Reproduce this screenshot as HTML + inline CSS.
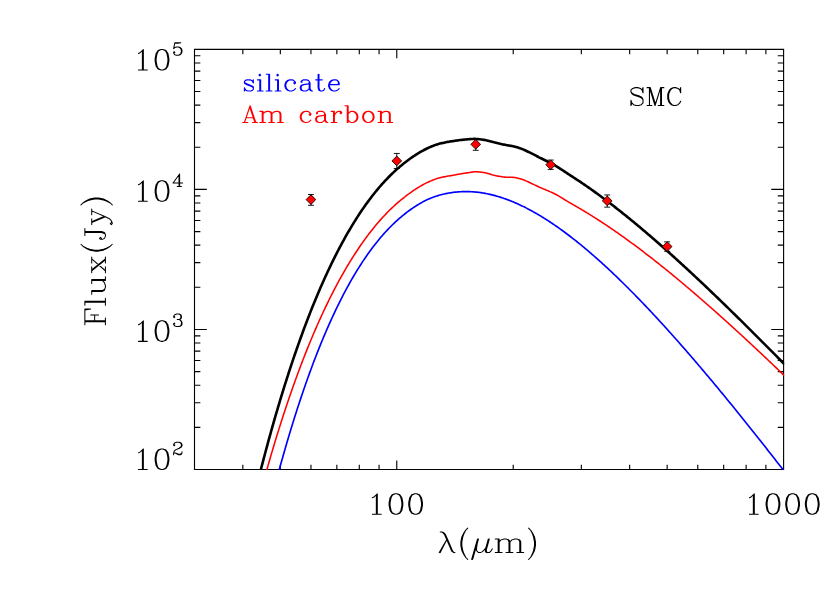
<!DOCTYPE html>
<html><head><meta charset="utf-8"><title>SMC SED</title>
<style>html,body{margin:0;padding:0;background:#fff;font-family:"Liberation Sans",sans-serif}svg{display:block}</style></head>
<body>
<svg width="830" height="593" viewBox="0 0 830 593">
<rect width="830" height="593" fill="#fff"/>
<path d="M194.5 49.4H783.6V469.5H194.5ZM242.83 469.5v-4.2M242.83 49.4v4.2M280.32 469.5v-4.2M280.32 49.4v4.2M310.95 469.5v-4.2M310.95 49.4v4.2M336.85 469.5v-4.2M336.85 49.4v4.2M359.28 469.5v-4.2M359.28 49.4v4.2M379.07 469.5v-4.2M379.07 49.4v4.2M396.77 469.5v-8.4M396.77 49.4v8.4M513.22 469.5v-4.2M513.22 49.4v4.2M581.33 469.5v-4.2M581.33 49.4v4.2M629.66 469.5v-4.2M629.66 49.4v4.2M667.15 469.5v-4.2M667.15 49.4v4.2M697.78 469.5v-4.2M697.78 49.4v4.2M723.68 469.5v-4.2M723.68 49.4v4.2M746.11 469.5v-4.2M746.11 49.4v4.2M765.9 469.5v-4.2M765.9 49.4v4.2M783.6 469.5v-8.4M783.6 49.4v8.4M194.5 469.5h11.8M783.6 469.5h-11.8M194.5 427.35h5.3M783.6 427.35h-5.3M194.5 402.69h5.3M783.6 402.69h-5.3M194.5 385.19h5.3M783.6 385.19h-5.3M194.5 371.62h5.3M783.6 371.62h-5.3M194.5 360.53h5.3M783.6 360.53h-5.3M194.5 351.16h5.3M783.6 351.16h-5.3M194.5 343.04h5.3M783.6 343.04h-5.3M194.5 335.87h5.3M783.6 335.87h-5.3M194.5 329.47h11.8M783.6 329.47h-11.8M194.5 287.31h5.3M783.6 287.31h-5.3M194.5 262.65h5.3M783.6 262.65h-5.3M194.5 245.16h5.3M783.6 245.16h-5.3M194.5 231.59h5.3M783.6 231.59h-5.3M194.5 220.5h5.3M783.6 220.5h-5.3M194.5 211.12h5.3M783.6 211.12h-5.3M194.5 203h5.3M783.6 203h-5.3M194.5 195.84h5.3M783.6 195.84h-5.3M194.5 189.43h11.8M783.6 189.43h-11.8M194.5 147.28h5.3M783.6 147.28h-5.3M194.5 122.62h5.3M783.6 122.62h-5.3M194.5 105.12h5.3M783.6 105.12h-5.3M194.5 91.55h5.3M783.6 91.55h-5.3M194.5 80.47h5.3M783.6 80.47h-5.3M194.5 71.09h5.3M783.6 71.09h-5.3M194.5 62.97h5.3M783.6 62.97h-5.3M194.5 55.81h5.3M783.6 55.81h-5.3M194.5 49.4h11.8M783.6 49.4h-11.8" fill="none" stroke="#000" stroke-width="1.12" stroke-linecap="square"/>
<defs><clipPath id="c"><rect x="193.9" y="48.8" width="590.3" height="421.3"/></clipPath></defs>
<g clip-path="url(#c)" fill="none" stroke-linejoin="round" stroke-linecap="butt">
<path d="M270 504.78 L271 500.84 L272 496.94 L273 493.06 L274 489.23 L275 485.42 L276 481.65 L277 477.91 L278 474.21 L279 470.53 L280 466.89 L281 463.29 L282 459.71 L283 456.17 L284 452.66 L285 449.18 L286 445.73 L287 442.31 L288 438.92 L289 435.57 L290 432.24 L291 428.95 L292 425.68 L293 422.45 L294 419.24 L295 416.07 L296 412.92 L297 409.81 L298 406.72 L299 403.66 L300 400.63 L301 397.63 L302 394.66 L303 391.72 L304 388.8 L305 385.91 L306 383.06 L307 380.22 L308 377.42 L309 374.64 L310 371.89 L311 369.17 L312 366.48 L313 363.81 L314 361.16 L315 358.55 L316 355.96 L317 353.39 L318 350.86 L319 348.34 L320 345.86 L321 343.4 L322 340.96 L323 338.55 L324 336.17 L325 333.81 L326 331.47 L327 329.16 L328 326.87 L329 324.61 L330 322.37 L331 320.16 L332 317.97 L333 315.8 L334 313.66 L335 311.54 L336 309.44 L337 307.37 L338 305.32 L339 303.29 L340 301.28 L341 299.3 L342 297.34 L343 295.4 L344 293.49 L345 291.6 L346 289.72 L347 287.87 L348 286.05 L349 284.24 L350 282.46 L351 280.69 L352 278.95 L353 277.23 L354 275.53 L355 273.85 L356 272.19 L357 270.55 L358 268.93 L359 267.34 L360 265.76 L361 264.2 L362 262.66 L363 261.15 L364 259.65 L365 258.17 L366 256.71 L367 255.27 L368 253.85 L369 252.45 L370 251.07 L371 249.71 L372 248.36 L373 247.04 L374 245.73 L375 244.44 L376 243.17 L377 241.92 L378 240.68 L379 239.47 L380 238.27 L381 237.09 L382 235.92 L383 234.78 L384 233.65 L385 232.54 L386 231.45 L387 230.37 L388 229.31 L389 228.27 L390 227.24 L391 226.23 L392 225.24 L393 224.26 L394 223.3 L395 222.36 L396 221.43 L397 220.52 L398 219.62 L399 218.74 L400 217.87 L401 217.02 L402 216.18 L403 215.36 L404 214.55 L405 213.76 L406 212.98 L407 212.21 L408 211.46 L409 210.72 L410 210 L411 209.29 L412 208.59 L413 207.9 L414 207.23 L415 206.58 L416 205.94 L417 205.31 L418 204.69 L419 204.09 L420 203.51 L421 202.94 L422 202.38 L423 201.84 L424 201.31 L425 200.8 L426 200.31 L427 199.83 L428 199.37 L429 198.92 L430 198.49 L431 198.08 L432 197.68 L433 197.29 L434 196.93 L435 196.57 L436 196.24 L437 195.91 L438 195.6 L439 195.31 L440 195.02 L441 194.76 L442 194.5 L443 194.26 L444 194.02 L445 193.8 L446 193.59 L447 193.4 L448 193.21 L449 193.03 L450 192.87 L451 192.71 L452 192.56 L453 192.43 L454 192.3 L455 192.19 L456 192.08 L457 191.99 L458 191.9 L459 191.83 L460 191.76 L461 191.71 L462 191.66 L463 191.63 L464 191.6 L465 191.59 L466 191.58 L467 191.59 L468 191.6 L469 191.63 L470 191.66 L471 191.71 L472 191.76 L473 191.83 L474 191.9 L475 191.98 L476 192.08 L477 192.18 L478 192.29 L479 192.42 L480 192.55 L481 192.69 L482 192.84 L483 193 L484 193.17 L485 193.35 L486 193.54 L487 193.74 L488 193.94 L489 194.16 L490 194.38 L491 194.61 L492 194.85 L493 195.1 L494 195.36 L495 195.63 L496 195.91 L497 196.19 L498 196.48 L499 196.78 L500 197.09 L501 197.41 L502 197.74 L503 198.07 L504 198.41 L505 198.76 L506 199.12 L507 199.49 L508 199.86 L509 200.24 L510 200.63 L511 201.03 L512 201.43 L513 201.84 L514 202.26 L515 202.69 L516 203.13 L517 203.57 L518 204.02 L519 204.47 L520 204.94 L521 205.41 L522 205.89 L523 206.37 L524 206.86 L525 207.36 L526 207.87 L527 208.38 L528 208.9 L529 209.43 L530 209.96 L531 210.5 L532 211.04 L533 211.6 L534 212.16 L535 212.72 L536 213.29 L537 213.87 L538 214.46 L539 215.05 L540 215.65 L541 216.25 L542 216.86 L543 217.48 L544 218.1 L545 218.72 L546 219.36 L547 220 L548 220.64 L549 221.3 L550 221.95 L551 222.62 L552 223.28 L553 223.96 L554 224.64 L555 225.32 L556 226.02 L557 226.71 L558 227.41 L559 228.12 L560 228.83 L561 229.55 L562 230.28 L563 231.01 L564 231.74 L565 232.48 L566 233.22 L567 233.97 L568 234.73 L569 235.49 L570 236.25 L571 237.02 L572 237.79 L573 238.57 L574 239.36 L575 240.15 L576 240.94 L577 241.74 L578 242.54 L579 243.35 L580 244.16 L581 244.98 L582 245.8 L583 246.63 L584 247.46 L585 248.29 L586 249.13 L587 249.97 L588 250.82 L589 251.67 L590 252.53 L591 253.39 L592 254.26 L593 255.13 L594 256 L595 256.88 L596 257.76 L597 258.65 L598 259.54 L599 260.43 L600 261.33 L601 262.23 L602 263.13 L603 264.04 L604 264.96 L605 265.87 L606 266.8 L607 267.72 L608 268.65 L609 269.58 L610 270.52 L611 271.46 L612 272.4 L613 273.35 L614 274.3 L615 275.25 L616 276.21 L617 277.17 L618 278.13 L619 279.1 L620 280.07 L621 281.05 L622 282.03 L623 283.01 L624 283.99 L625 284.98 L626 285.97 L627 286.97 L628 287.96 L629 288.96 L630 289.97 L631 290.97 L632 291.99 L633 293 L634 294.01 L635 295.03 L636 296.06 L637 297.08 L638 298.11 L639 299.14 L640 300.18 L641 301.21 L642 302.25 L643 303.3 L644 304.34 L645 305.39 L646 306.44 L647 307.5 L648 308.55 L649 309.61 L650 310.67 L651 311.74 L652 312.81 L653 313.88 L654 314.95 L655 316.03 L656 317.1 L657 318.18 L658 319.27 L659 320.35 L660 321.44 L661 322.53 L662 323.63 L663 324.72 L664 325.82 L665 326.92 L666 328.02 L667 329.13 L668 330.24 L669 331.35 L670 332.46 L671 333.57 L672 334.69 L673 335.81 L674 336.93 L675 338.06 L676 339.18 L677 340.31 L678 341.44 L679 342.57 L680 343.71 L681 344.84 L682 345.98 L683 347.12 L684 348.27 L685 349.41 L686 350.56 L687 351.71 L688 352.86 L689 354.02 L690 355.17 L691 356.33 L692 357.49 L693 358.65 L694 359.81 L695 360.98 L696 362.14 L697 363.31 L698 364.48 L699 365.66 L700 366.83 L701 368.01 L702 369.19 L703 370.37 L704 371.55 L705 372.73 L706 373.92 L707 375.11 L708 376.3 L709 377.49 L710 378.68 L711 379.87 L712 381.07 L713 382.27 L714 383.47 L715 384.67 L716 385.87 L717 387.07 L718 388.28 L719 389.49 L720 390.7 L721 391.91 L722 393.12 L723 394.33 L724 395.55 L725 396.77 L726 397.98 L727 399.2 L728 400.43 L729 401.65 L730 402.87 L731 404.1 L732 405.33 L733 406.56 L734 407.79 L735 409.02 L736 410.25 L737 411.49 L738 412.72 L739 413.96 L740 415.2 L741 416.44 L742 417.68 L743 418.92 L744 420.17 L745 421.41 L746 422.66 L747 423.91 L748 425.16 L749 426.41 L750 427.66 L751 428.91 L752 430.17 L753 431.42 L754 432.68 L755 433.94 L756 435.2 L757 436.46 L758 437.72 L759 438.98 L760 440.25 L761 441.51 L762 442.78 L763 444.05 L764 445.32 L765 446.59 L766 447.86 L767 449.13 L768 450.41 L769 451.68 L770 452.96 L771 454.23 L772 455.51 L773 456.79 L774 458.07 L775 459.35 L776 460.64 L777 461.92 L778 463.2 L779 464.49 L780 465.78 L781 467.06 L782 468.35 L783 469.64 L784 470.93 L784.6 471.71" stroke="#0000ff" stroke-width="1.65"/>
<path d="M258 502.16 L259 498.38 L260 494.62 L261 490.89 L262 487.2 L263 483.53 L264 479.9 L265 476.3 L266 472.72 L267 469.18 L268 465.66 L269 462.17 L270 458.72 L271 455.29 L272 451.89 L273 448.52 L274 445.17 L275 441.86 L276 438.57 L277 435.31 L278 432.08 L279 428.88 L280 425.7 L281 422.55 L282 419.43 L283 416.33 L284 413.26 L285 410.22 L286 407.2 L287 404.21 L288 401.25 L289 398.31 L290 395.39 L291 392.51 L292 389.64 L293 386.8 L294 383.99 L295 381.2 L296 378.44 L297 375.7 L298 372.98 L299 370.29 L300 367.63 L301 364.98 L302 362.36 L303 359.77 L304 357.19 L305 354.64 L306 352.12 L307 349.61 L308 347.13 L309 344.67 L310 342.23 L311 339.82 L312 337.43 L313 335.06 L314 332.71 L315 330.38 L316 328.08 L317 325.8 L318 323.53 L319 321.29 L320 319.07 L321 316.88 L322 314.7 L323 312.54 L324 310.4 L325 308.29 L326 306.19 L327 304.12 L328 302.06 L329 300.02 L330 298.01 L331 296.01 L332 294.04 L333 292.08 L334 290.14 L335 288.22 L336 286.32 L337 284.44 L338 282.58 L339 280.74 L340 278.92 L341 277.11 L342 275.33 L343 273.56 L344 271.81 L345 270.08 L346 268.36 L347 266.67 L348 264.99 L349 263.33 L350 261.69 L351 260.07 L352 258.47 L353 256.88 L354 255.31 L355 253.75 L356 252.22 L357 250.7 L358 249.2 L359 247.72 L360 246.25 L361 244.8 L362 243.37 L363 241.95 L364 240.55 L365 239.17 L366 237.8 L367 236.45 L368 235.12 L369 233.8 L370 232.5 L371 231.22 L372 229.95 L373 228.7 L374 227.46 L375 226.24 L376 225.04 L377 223.85 L378 222.68 L379 221.52 L380 220.38 L381 219.25 L382 218.14 L383 217.05 L384 215.97 L385 214.91 L386 213.86 L387 212.83 L388 211.81 L389 210.8 L390 209.82 L391 208.84 L392 207.88 L393 206.94 L394 206.01 L395 205.1 L396 204.2 L397 203.31 L398 202.44 L399 201.59 L400 200.74 L401 199.92 L402 199.1 L403 198.3 L404 197.52 L405 196.75 L406 195.99 L407 195.23 L408 194.49 L409 193.75 L410 193.02 L411 192.31 L412 191.6 L413 190.91 L414 190.23 L415 189.56 L416 188.91 L417 188.27 L418 187.65 L419 187.05 L420 186.45 L421 185.87 L422 185.29 L423 184.74 L424 184.19 L425 183.66 L426 183.15 L427 182.66 L428 182.18 L429 181.73 L430 181.28 L431 180.85 L432 180.43 L433 180.03 L434 179.63 L435 179.25 L436 178.89 L437 178.53 L438 178.21 L439 177.93 L440 177.68 L441 177.46 L442 177.25 L443 177.06 L444 176.87 L445 176.67 L446 176.46 L447 176.28 L448 176.1 L449 175.93 L450 175.77 L451 175.61 L452 175.44 L453 175.28 L454 175.1 L455 174.92 L456 174.74 L457 174.55 L458 174.36 L459 174.17 L460 173.99 L461 173.81 L462 173.65 L463 173.49 L464 173.33 L465 173.17 L466 173.01 L467 172.86 L468 172.71 L469 172.57 L470 172.44 L471 172.29 L472 172.13 L473 171.98 L474 171.85 L475 171.78 L476 171.78 L477 171.82 L478 171.89 L479 171.98 L480 172.08 L481 172.19 L482 172.3 L483 172.42 L484 172.55 L485 172.71 L486 172.92 L487 173.19 L488 173.5 L489 173.79 L490 174.09 L491 174.41 L492 174.72 L493 175 L494 175.24 L495 175.48 L496 175.71 L497 175.93 L498 176.12 L499 176.29 L500 176.44 L501 176.6 L502 176.75 L503 176.9 L504 177.02 L505 177.14 L506 177.23 L507 177.27 L508 177.28 L509 177.27 L510 177.28 L511 177.31 L512 177.33 L513 177.36 L514 177.44 L515 177.59 L516 177.77 L517 177.98 L518 178.21 L519 178.46 L520 178.73 L521 179.01 L522 179.31 L523 179.64 L524 180.01 L525 180.44 L526 180.9 L527 181.36 L528 181.82 L529 182.28 L530 182.76 L531 183.23 L532 183.69 L533 184.15 L534 184.61 L535 185.08 L536 185.55 L537 186.05 L538 186.55 L539 187.03 L540 187.48 L541 187.89 L542 188.3 L543 188.7 L544 189.11 L545 189.53 L546 189.94 L547 190.36 L548 190.78 L549 191.21 L550 191.64 L551 192.09 L552 192.54 L553 193 L554 193.46 L555 193.94 L556 194.45 L557 195.01 L558 195.59 L559 196.19 L560 196.8 L561 197.42 L562 198.02 L563 198.62 L564 199.23 L565 199.85 L566 200.47 L567 201.08 L568 201.69 L569 202.29 L570 202.87 L571 203.44 L572 204.01 L573 204.59 L574 205.17 L575 205.75 L576 206.33 L577 206.91 L578 207.49 L579 208.08 L580 208.66 L581 209.25 L582 209.84 L583 210.43 L584 211.03 L585 211.63 L586 212.23 L587 212.84 L588 213.45 L589 214.06 L590 214.68 L591 215.3 L592 215.92 L593 216.55 L594 217.18 L595 217.81 L596 218.45 L597 219.09 L598 219.73 L599 220.37 L600 221.02 L601 221.67 L602 222.33 L603 222.98 L604 223.64 L605 224.31 L606 224.97 L607 225.64 L608 226.31 L609 226.99 L610 227.67 L611 228.35 L612 229.03 L613 229.72 L614 230.4 L615 231.1 L616 231.79 L617 232.49 L618 233.19 L619 233.89 L620 234.59 L621 235.3 L622 236.01 L623 236.72 L624 237.44 L625 238.16 L626 238.88 L627 239.6 L628 240.32 L629 241.05 L630 241.78 L631 242.51 L632 243.25 L633 243.99 L634 244.73 L635 245.47 L636 246.21 L637 246.96 L638 247.71 L639 248.46 L640 249.22 L641 249.97 L642 250.73 L643 251.49 L644 252.25 L645 253.02 L646 253.79 L647 254.56 L648 255.33 L649 256.1 L650 256.88 L651 257.66 L652 258.44 L653 259.22 L654 260 L655 260.79 L656 261.58 L657 262.37 L658 263.16 L659 263.96 L660 264.75 L661 265.55 L662 266.35 L663 267.16 L664 267.96 L665 268.77 L666 269.58 L667 270.39 L668 271.2 L669 272.01 L670 272.83 L671 273.65 L672 274.47 L673 275.29 L674 276.11 L675 276.94 L676 277.76 L677 278.59 L678 279.42 L679 280.25 L680 281.09 L681 281.92 L682 282.76 L683 283.6 L684 284.44 L685 285.28 L686 286.13 L687 286.97 L688 287.82 L689 288.67 L690 289.52 L691 290.37 L692 291.23 L693 292.08 L694 292.94 L695 293.8 L696 294.66 L697 295.52 L698 296.38 L699 297.25 L700 298.11 L701 298.98 L702 299.85 L703 300.72 L704 301.59 L705 302.46 L706 303.34 L707 304.21 L708 305.09 L709 305.97 L710 306.85 L711 307.73 L712 308.62 L713 309.5 L714 310.39 L715 311.28 L716 312.16 L717 313.05 L718 313.95 L719 314.84 L720 315.73 L721 316.63 L722 317.52 L723 318.42 L724 319.32 L725 320.22 L726 321.12 L727 322.03 L728 322.93 L729 323.83 L730 324.74 L731 325.65 L732 326.56 L733 327.47 L734 328.38 L735 329.29 L736 330.21 L737 331.12 L738 332.04 L739 332.95 L740 333.87 L741 334.79 L742 335.71 L743 336.63 L744 337.55 L745 338.48 L746 339.4 L747 340.33 L748 341.26 L749 342.18 L750 343.11 L751 344.04 L752 344.97 L753 345.91 L754 346.84 L755 347.77 L756 348.71 L757 349.64 L758 350.58 L759 351.52 L760 352.46 L761 353.4 L762 354.34 L763 355.28 L764 356.23 L765 357.17 L766 358.11 L767 359.06 L768 360.01 L769 360.95 L770 361.9 L771 362.85 L772 363.8 L773 364.75 L774 365.71 L775 366.66 L776 367.61 L777 368.57 L778 369.52 L779 370.48 L780 371.44 L781 372.4 L782 373.36 L783 374.32 L784 375.28 L784.6 375.85" stroke="#ff0000" stroke-width="1.55"/>
<path d="M252 505.22 L253 501.07 L254 496.95 L255 492.87 L256 488.81 L257 484.79 L258 480.8 L259 476.84 L260 472.91 L261 469.02 L262 465.15 L263 461.32 L264 457.51 L265 453.74 L266 450 L267 446.29 L268 442.61 L269 438.96 L270 435.33 L271 431.74 L272 428.18 L273 424.65 L274 421.14 L275 417.67 L276 414.22 L277 410.8 L278 407.41 L279 404.05 L280 400.72 L281 397.42 L282 394.14 L283 390.89 L284 387.67 L285 384.48 L286 381.31 L287 378.17 L288 375.06 L289 371.97 L290 368.91 L291 365.88 L292 362.88 L293 359.9 L294 356.94 L295 354.02 L296 351.11 L297 348.24 L298 345.39 L299 342.56 L300 339.76 L301 336.99 L302 334.24 L303 331.51 L304 328.81 L305 326.14 L306 323.48 L307 320.86 L308 318.25 L309 315.67 L310 313.12 L311 310.59 L312 308.08 L313 305.6 L314 303.13 L315 300.7 L316 298.28 L317 295.89 L318 293.52 L319 291.17 L320 288.85 L321 286.55 L322 284.27 L323 282.01 L324 279.78 L325 277.56 L326 275.37 L327 273.2 L328 271.05 L329 268.93 L330 266.82 L331 264.74 L332 262.68 L333 260.64 L334 258.61 L335 256.61 L336 254.64 L337 252.68 L338 250.74 L339 248.82 L340 246.92 L341 245.05 L342 243.19 L343 241.35 L344 239.53 L345 237.74 L346 235.96 L347 234.2 L348 232.46 L349 230.74 L350 229.04 L351 227.36 L352 225.7 L353 224.05 L354 222.43 L355 220.82 L356 219.23 L357 217.67 L358 216.12 L359 214.58 L360 213.07 L361 211.58 L362 210.1 L363 208.64 L364 207.2 L365 205.78 L366 204.37 L367 202.98 L368 201.61 L369 200.26 L370 198.93 L371 197.61 L372 196.31 L373 195.02 L374 193.76 L375 192.51 L376 191.28 L377 190.06 L378 188.86 L379 187.68 L380 186.51 L381 185.37 L382 184.23 L383 183.12 L384 182.02 L385 180.93 L386 179.87 L387 178.81 L388 177.78 L389 176.76 L390 175.75 L391 174.76 L392 173.79 L393 172.83 L394 171.89 L395 170.96 L396 170.05 L397 169.15 L398 168.27 L399 167.41 L400 166.55 L401 165.71 L402 164.89 L403 164.08 L404 163.29 L405 162.5 L406 161.74 L407 160.98 L408 160.23 L409 159.49 L410 158.76 L411 158.05 L412 157.35 L413 156.66 L414 155.98 L415 155.32 L416 154.68 L417 154.04 L418 153.42 L419 152.82 L420 152.23 L421 151.65 L422 151.09 L423 150.53 L424 150 L425 149.48 L426 148.97 L427 148.49 L428 148.02 L429 147.56 L430 147.13 L431 146.7 L432 146.29 L433 145.89 L434 145.51 L435 145.14 L436 144.79 L437 144.45 L438 144.13 L439 143.84 L440 143.58 L441 143.34 L442 143.11 L443 142.9 L444 142.69 L445 142.48 L446 142.27 L447 142.08 L448 141.9 L449 141.73 L450 141.56 L451 141.4 L452 141.25 L453 141.1 L454 140.94 L455 140.79 L456 140.64 L457 140.49 L458 140.35 L459 140.21 L460 140.07 L461 139.95 L462 139.84 L463 139.73 L464 139.63 L465 139.53 L466 139.44 L467 139.35 L468 139.27 L469 139.2 L470 139.14 L471 139.07 L472 139 L473 138.94 L474 138.9 L475 138.89 L476 138.93 L477 139 L478 139.09 L479 139.19 L480 139.31 L481 139.43 L482 139.55 L483 139.69 L484 139.84 L485 140 L486 140.2 L487 140.45 L488 140.71 L489 140.97 L490 141.24 L491 141.52 L492 141.8 L493 142.07 L494 142.32 L495 142.57 L496 142.82 L497 143.06 L498 143.3 L499 143.52 L500 143.74 L501 143.96 L502 144.19 L503 144.41 L504 144.63 L505 144.84 L506 145.04 L507 145.22 L508 145.37 L509 145.53 L510 145.69 L511 145.87 L512 146.04 L513 146.23 L514 146.44 L515 146.7 L516 146.98 L517 147.28 L518 147.6 L519 147.93 L520 148.28 L521 148.63 L522 149 L523 149.39 L524 149.81 L525 150.27 L526 150.75 L527 151.23 L528 151.71 L529 152.2 L530 152.69 L531 153.19 L532 153.69 L533 154.18 L534 154.68 L535 155.19 L536 155.7 L537 156.23 L538 156.76 L539 157.29 L540 157.79 L541 158.28 L542 158.76 L543 159.25 L544 159.74 L545 160.23 L546 160.73 L547 161.24 L548 161.74 L549 162.26 L550 162.78 L551 163.3 L552 163.83 L553 164.37 L554 164.92 L555 165.48 L556 166.05 L557 166.66 L558 167.29 L559 167.93 L560 168.58 L561 169.23 L562 169.88 L563 170.53 L564 171.18 L565 171.85 L566 172.51 L567 173.18 L568 173.84 L569 174.5 L570 175.14 L571 175.79 L572 176.43 L573 177.08 L574 177.74 L575 178.39 L576 179.05 L577 179.71 L578 180.37 L579 181.04 L580 181.7 L581 182.37 L582 183.04 L583 183.72 L584 184.4 L585 185.08 L586 185.77 L587 186.46 L588 187.15 L589 187.85 L590 188.55 L591 189.26 L592 189.96 L593 190.67 L594 191.39 L595 192.11 L596 192.83 L597 193.55 L598 194.28 L599 195.01 L600 195.74 L601 196.48 L602 197.22 L603 197.96 L604 198.7 L605 199.45 L606 200.2 L607 200.96 L608 201.72 L609 202.48 L610 203.24 L611 204.01 L612 204.77 L613 205.55 L614 206.32 L615 207.1 L616 207.88 L617 208.66 L618 209.44 L619 210.23 L620 211.02 L621 211.82 L622 212.61 L623 213.41 L624 214.21 L625 215.01 L626 215.82 L627 216.63 L628 217.44 L629 218.25 L630 219.07 L631 219.89 L632 220.71 L633 221.53 L634 222.35 L635 223.18 L636 224.01 L637 224.84 L638 225.68 L639 226.51 L640 227.35 L641 228.19 L642 229.04 L643 229.88 L644 230.73 L645 231.58 L646 232.43 L647 233.28 L648 234.14 L649 235 L650 235.86 L651 236.72 L652 237.58 L653 238.45 L654 239.32 L655 240.19 L656 241.06 L657 241.93 L658 242.81 L659 243.69 L660 244.57 L661 245.45 L662 246.33 L663 247.21 L664 248.1 L665 248.99 L666 249.88 L667 250.77 L668 251.66 L669 252.56 L670 253.46 L671 254.36 L672 255.26 L673 256.16 L674 257.06 L675 257.97 L676 258.87 L677 259.78 L678 260.69 L679 261.6 L680 262.52 L681 263.43 L682 264.35 L683 265.27 L684 266.18 L685 267.11 L686 268.03 L687 268.95 L688 269.88 L689 270.8 L690 271.73 L691 272.66 L692 273.59 L693 274.52 L694 275.46 L695 276.39 L696 277.33 L697 278.27 L698 279.21 L699 280.15 L700 281.09 L701 282.03 L702 282.97 L703 283.92 L704 284.87 L705 285.81 L706 286.76 L707 287.71 L708 288.67 L709 289.62 L710 290.57 L711 291.53 L712 292.48 L713 293.44 L714 294.4 L715 295.36 L716 296.32 L717 297.28 L718 298.24 L719 299.21 L720 300.17 L721 301.14 L722 302.11 L723 303.08 L724 304.05 L725 305.02 L726 305.99 L727 306.96 L728 307.93 L729 308.91 L730 309.88 L731 310.86 L732 311.84 L733 312.82 L734 313.8 L735 314.78 L736 315.76 L737 316.74 L738 317.72 L739 318.71 L740 319.69 L741 320.68 L742 321.66 L743 322.65 L744 323.64 L745 324.63 L746 325.62 L747 326.61 L748 327.6 L749 328.6 L750 329.59 L751 330.58 L752 331.58 L753 332.58 L754 333.57 L755 334.57 L756 335.57 L757 336.57 L758 337.57 L759 338.57 L760 339.57 L761 340.57 L762 341.57 L763 342.58 L764 343.58 L765 344.59 L766 345.59 L767 346.6 L768 347.61 L769 348.61 L770 349.62 L771 350.63 L772 351.64 L773 352.65 L774 353.66 L775 354.68 L776 355.69 L777 356.7 L778 357.72 L779 358.73 L780 359.75 L781 360.76 L782 361.78 L783 362.79 L784 363.81 L784.6 364.42" stroke="#000" stroke-width="2.6"/>
</g>
<path d="M310.95 194.5V205.3M307.95 194.5h6M307.95 205.3h6" stroke="#000" stroke-width="0.9" fill="none"/>
<path d="M310.95 194.75L315.8 199.6L310.95 204.45L306.1 199.6Z" fill="#ff0000" stroke="#000" stroke-width="0.85"/>
<path d="M396.77 153.45V168.5M393.77 153.45h6M393.77 168.5h6" stroke="#000" stroke-width="0.9" fill="none"/>
<path d="M396.77 156.05L401.62 160.9L396.77 165.75L391.92 160.9Z" fill="#ff0000" stroke="#000" stroke-width="0.85"/>
<path d="M475.73 138.75V150.3M472.73 138.75h6M472.73 150.3h6" stroke="#000" stroke-width="0.9" fill="none"/>
<path d="M475.73 139.5L480.58 144.35L475.73 149.2L470.88 144.35Z" fill="#ff0000" stroke="#000" stroke-width="0.85"/>
<path d="M550.7 160.05V169.4M547.7 160.05h6M547.7 169.4h6" stroke="#000" stroke-width="0.9" fill="none"/>
<path d="M550.7 159.9L555.55 164.75L550.7 169.6L545.85 164.75Z" fill="#ff0000" stroke="#000" stroke-width="0.85"/>
<path d="M607.23 194.95V207.15M604.23 194.95h6M604.23 207.15h6" stroke="#000" stroke-width="0.9" fill="none"/>
<path d="M607.23 196L612.08 200.85L607.23 205.7L602.38 200.85Z" fill="#ff0000" stroke="#000" stroke-width="0.85"/>
<path d="M667.15 241.86V251.31M664.15 241.86h6M664.15 251.31h6" stroke="#000" stroke-width="0.9" fill="none"/>
<path d="M667.15 241.71L672 246.56L667.15 251.41L662.3 246.56Z" fill="#ff0000" stroke="#000" stroke-width="0.85"/>
<path d="M372.4 497.67 L374.36 496.7 L377.31 493.76 L377.31 514.3M376.33 494.74 L376.33 514.3M372.4 514.3 L381.24 514.3M394.98 493.76 L392.04 494.74 L390.08 497.67 L389.09 502.56 L389.09 505.5 L390.08 510.39 L392.04 513.32 L394.98 514.3 L396.95 514.3 L399.89 513.32 L401.86 510.39 L402.84 505.5 L402.84 502.56 L401.86 497.67 L399.89 494.74 L396.95 493.76 L394.98 493.76M394.98 493.76 L393.02 494.74 L392.04 495.72 L391.06 497.67 L390.08 502.56 L390.08 505.5 L391.06 510.39 L392.04 512.34 L393.02 513.32 L394.98 514.3M396.95 514.3 L398.91 513.32 L399.89 512.34 L400.88 510.39 L401.86 505.5 L401.86 502.56 L400.88 497.67 L399.89 495.72 L398.91 494.74 L396.95 493.76M414.62 493.76 L411.68 494.74 L409.71 497.67 L408.73 502.56 L408.73 505.5 L409.71 510.39 L411.68 513.32 L414.62 514.3 L416.59 514.3 L419.53 513.32 L421.5 510.39 L422.48 505.5 L422.48 502.56 L421.5 497.67 L419.53 494.74 L416.59 493.76 L414.62 493.76M414.62 493.76 L412.66 494.74 L411.68 495.72 L410.7 497.67 L409.71 502.56 L409.71 505.5 L410.7 510.39 L411.68 512.34 L412.66 513.32 L414.62 514.3M416.59 514.3 L418.55 513.32 L419.53 512.34 L420.51 510.39 L421.5 505.5 L421.5 502.56 L420.51 497.67 L419.53 495.72 L418.55 494.74 L416.59 493.76" fill="none" stroke="#000" stroke-width="1.02" stroke-linecap="round" stroke-linejoin="round"/>
<path d="M749.41 497.67 L751.38 496.7 L754.32 493.76 L754.32 514.3M753.34 494.74 L753.34 514.3M749.41 514.3 L758.25 514.3M772 493.76 L769.05 494.74 L767.09 497.67 L766.11 502.56 L766.11 505.5 L767.09 510.39 L769.05 513.32 L772 514.3 L773.96 514.3 L776.91 513.32 L778.87 510.39 L779.85 505.5 L779.85 502.56 L778.87 497.67 L776.91 494.74 L773.96 493.76 L772 493.76M772 493.76 L770.04 494.74 L769.05 495.72 L768.07 497.67 L767.09 502.56 L767.09 505.5 L768.07 510.39 L769.05 512.34 L770.04 513.32 L772 514.3M773.96 514.3 L775.93 513.32 L776.91 512.34 L777.89 510.39 L778.87 505.5 L778.87 502.56 L777.89 497.67 L776.91 495.72 L775.93 494.74 L773.96 493.76M791.64 493.76 L788.69 494.74 L786.73 497.67 L785.75 502.56 L785.75 505.5 L786.73 510.39 L788.69 513.32 L791.64 514.3 L793.6 514.3 L796.55 513.32 L798.51 510.39 L799.49 505.5 L799.49 502.56 L798.51 497.67 L796.55 494.74 L793.6 493.76 L791.64 493.76M791.64 493.76 L789.67 494.74 L788.69 495.72 L787.71 497.67 L786.73 502.56 L786.73 505.5 L787.71 510.39 L788.69 512.34 L789.67 513.32 L791.64 514.3M793.6 514.3 L795.56 513.32 L796.55 512.34 L797.53 510.39 L798.51 505.5 L798.51 502.56 L797.53 497.67 L796.55 495.72 L795.56 494.74 L793.6 493.76M811.28 493.76 L808.33 494.74 L806.37 497.67 L805.38 502.56 L805.38 505.5 L806.37 510.39 L808.33 513.32 L811.28 514.3 L813.24 514.3 L816.19 513.32 L818.15 510.39 L819.13 505.5 L819.13 502.56 L818.15 497.67 L816.19 494.74 L813.24 493.76 L811.28 493.76M811.28 493.76 L809.31 494.74 L808.33 495.72 L807.35 497.67 L806.37 502.56 L806.37 505.5 L807.35 510.39 L808.33 512.34 L809.31 513.32 L811.28 514.3M813.24 514.3 L815.2 513.32 L816.19 512.34 L817.17 510.39 L818.15 505.5 L818.15 502.56 L817.17 497.67 L816.19 495.72 L815.2 494.74 L813.24 493.76" fill="none" stroke="#000" stroke-width="1.02" stroke-linecap="round" stroke-linejoin="round"/>
<path d="M138.45 452.87 L140.41 451.9 L143.36 448.96 L143.36 469.5M142.38 449.94 L142.38 469.5M138.45 469.5 L147.29 469.5M161.03 448.96 L158.09 449.94 L156.12 452.87 L155.14 457.76 L155.14 460.7 L156.12 465.59 L158.09 468.52 L161.03 469.5 L163 469.5 L165.94 468.52 L167.91 465.59 L168.89 460.7 L168.89 457.76 L167.91 452.87 L165.94 449.94 L163 448.96 L161.03 448.96M161.03 448.96 L159.07 449.94 L158.09 450.92 L157.11 452.87 L156.12 457.76 L156.12 460.7 L157.11 465.59 L158.09 467.54 L159.07 468.52 L161.03 469.5M163 469.5 L164.96 468.52 L165.94 467.54 L166.93 465.59 L167.91 460.7 L167.91 457.76 L166.93 452.87 L165.94 450.92 L164.96 449.94 L163 448.96M174.23 444.59 L174.83 445.19 L174.23 445.78 L173.63 445.19 L173.63 444.59 L174.23 443.4 L174.83 442.8 L176.63 442.2 L179.02 442.2 L180.82 442.8 L181.42 443.4 L182.02 444.59 L182.02 445.78 L181.42 446.98 L179.62 448.17 L176.63 449.36 L175.43 449.96 L174.23 451.15 L173.63 452.94 L173.63 454.73M179.02 442.2 L180.22 442.8 L180.82 443.4 L181.42 444.59 L181.42 445.78 L180.82 446.98 L179.02 448.17 L176.63 449.36M173.63 453.54 L174.23 452.94 L175.43 452.94 L178.42 454.14 L180.22 454.14 L181.42 453.54 L182.02 452.94M175.43 452.94 L178.42 454.73 L180.82 454.73 L181.42 454.14 L182.02 452.94 L182.02 451.75" fill="none" stroke="#000" stroke-width="1.02" stroke-linecap="round" stroke-linejoin="round"/>
<path d="M138.45 324.74 L140.41 323.76 L143.36 320.83 L143.36 341.37M142.38 321.81 L142.38 341.37M138.45 341.37 L147.29 341.37M161.03 320.83 L158.09 321.81 L156.12 324.74 L155.14 329.63 L155.14 332.56 L156.12 337.45 L158.09 340.39 L161.03 341.37 L163 341.37 L165.94 340.39 L167.91 337.45 L168.89 332.56 L168.89 329.63 L167.91 324.74 L165.94 321.81 L163 320.83 L161.03 320.83M161.03 320.83 L159.07 321.81 L158.09 322.78 L157.11 324.74 L156.12 329.63 L156.12 332.56 L157.11 337.45 L158.09 339.41 L159.07 340.39 L161.03 341.37M163 341.37 L164.96 340.39 L165.94 339.41 L166.93 337.45 L167.91 332.56 L167.91 329.63 L166.93 324.74 L165.94 322.78 L164.96 321.81 L163 320.83M174.23 316.46 L174.83 317.05 L174.23 317.65 L173.63 317.05 L173.63 316.46 L174.23 315.26 L174.83 314.67 L176.63 314.07 L179.02 314.07 L180.82 314.67 L181.42 315.86 L181.42 317.65 L180.82 318.84 L179.02 319.44 L177.23 319.44M179.02 314.07 L180.22 314.67 L180.82 315.86 L180.82 317.65 L180.22 318.84 L179.02 319.44M179.02 319.44 L180.22 320.04 L181.42 321.23 L182.02 322.42 L182.02 324.21 L181.42 325.41 L180.82 326 L179.02 326.6 L176.63 326.6 L174.83 326 L174.23 325.41 L173.63 324.21 L173.63 323.62 L174.23 323.02 L174.83 323.62 L174.23 324.21M180.82 320.63 L181.42 322.42 L181.42 324.21 L180.82 325.41 L180.22 326 L179.02 326.6" fill="none" stroke="#000" stroke-width="1.02" stroke-linecap="round" stroke-linejoin="round"/>
<path d="M138.45 184.71 L140.41 183.73 L143.36 180.8 L143.36 201.33M142.38 181.77 L142.38 201.33M138.45 201.33 L147.29 201.33M161.03 180.8 L158.09 181.77 L156.12 184.71 L155.14 189.6 L155.14 192.53 L156.12 197.42 L158.09 200.36 L161.03 201.33 L163 201.33 L165.94 200.36 L167.91 197.42 L168.89 192.53 L168.89 189.6 L167.91 184.71 L165.94 181.77 L163 180.8 L161.03 180.8M161.03 180.8 L159.07 181.77 L158.09 182.75 L157.11 184.71 L156.12 189.6 L156.12 192.53 L157.11 197.42 L158.09 199.38 L159.07 200.36 L161.03 201.33M163 201.33 L164.96 200.36 L165.94 199.38 L166.93 197.42 L167.91 192.53 L167.91 189.6 L166.93 184.71 L165.94 182.75 L164.96 181.77 L163 180.8M179.02 175.23 L179.02 186.57M179.62 174.04 L179.62 186.57M179.62 174.04 L173.03 182.99 L182.62 182.99M177.23 186.57 L181.42 186.57" fill="none" stroke="#000" stroke-width="1.02" stroke-linecap="round" stroke-linejoin="round"/>
<path d="M138.45 53.42 L140.41 52.45 L143.36 49.51 L143.36 70.05M142.38 50.49 L142.38 70.05M138.45 70.05 L147.29 70.05M161.03 49.51 L158.09 50.49 L156.12 53.42 L155.14 58.31 L155.14 61.25 L156.12 66.14 L158.09 69.07 L161.03 70.05 L163 70.05 L165.94 69.07 L167.91 66.14 L168.89 61.25 L168.89 58.31 L167.91 53.42 L165.94 50.49 L163 49.51 L161.03 49.51M161.03 49.51 L159.07 50.49 L158.09 51.47 L157.11 53.42 L156.12 58.31 L156.12 61.25 L157.11 66.14 L158.09 68.09 L159.07 69.07 L161.03 70.05M163 70.05 L164.96 69.07 L165.94 68.09 L166.93 66.14 L167.91 61.25 L167.91 58.31 L166.93 53.42 L165.94 51.47 L164.96 50.49 L163 49.51M174.83 42.75 L173.63 48.72M173.63 48.72 L174.83 47.53 L176.63 46.93 L178.42 46.93 L180.22 47.53 L181.42 48.72 L182.02 50.51 L182.02 51.7 L181.42 53.49 L180.22 54.69 L178.42 55.28 L176.63 55.28 L174.83 54.69 L174.23 54.09 L173.63 52.9 L173.63 52.3 L174.23 51.7 L174.83 52.3 L174.23 52.9M178.42 46.93 L179.62 47.53 L180.82 48.72 L181.42 50.51 L181.42 51.7 L180.82 53.49 L179.62 54.69 L178.42 55.28M174.83 42.75 L180.82 42.75M174.83 43.35 L177.82 43.35 L180.82 42.75" fill="none" stroke="#000" stroke-width="1.02" stroke-linecap="round" stroke-linejoin="round"/>
<path d="M440.24 532.06 L442.2 532.06 L444.16 533.04 L445.15 534.02 L446.13 535.97 L452.02 549.67 L453 551.62 L453.98 552.6M442.2 532.06 L444.16 534.02 L445.15 535.97 L451.04 549.67 L452.02 551.62 L453.98 552.6 L454.96 552.6M447.11 538.91 L439.25 552.6M447.11 538.91 L440.24 552.6M467.73 528.15 L465.77 530.11 L463.8 533.04 L461.84 536.95 L460.86 541.84 L460.86 545.75 L461.84 550.64 L463.8 554.56 L465.77 557.49 L467.73 559.45M465.77 530.11 L463.8 534.02 L462.82 536.95 L461.84 541.84 L461.84 545.75 L462.82 550.64 L463.8 553.58 L465.77 557.49M477.55 538.91 L471.66 559.45M478.53 538.91 L472.64 559.45M477.55 541.84 L476.57 547.71 L476.57 550.64 L478.53 552.6 L480.49 552.6 L482.46 551.62 L484.42 549.67 L486.39 546.73M488.35 538.91 L485.4 549.67 L485.4 551.62 L486.39 552.6 L489.33 552.6 L491.3 550.64 L492.28 548.69M489.33 538.91 L486.39 549.67 L486.39 551.62 L487.37 552.6M498.17 538.91 L498.17 552.6M499.15 538.91 L499.15 552.6M499.15 541.84 L501.11 539.89 L504.06 538.91 L506.02 538.91 L508.97 539.89 L509.95 541.84 L509.95 552.6M506.02 538.91 L507.99 539.89 L508.97 541.84 L508.97 552.6M509.95 541.84 L511.92 539.89 L514.86 538.91 L516.83 538.91 L519.77 539.89 L520.75 541.84 L520.75 552.6M516.83 538.91 L518.79 539.89 L519.77 541.84 L519.77 552.6M495.22 538.91 L499.15 538.91M495.22 552.6 L502.1 552.6M506.02 552.6 L512.9 552.6M516.83 552.6 L523.7 552.6M528.61 528.15 L530.57 530.11 L532.54 533.04 L534.5 536.95 L535.48 541.84 L535.48 545.75 L534.5 550.64 L532.54 554.56 L530.57 557.49 L528.61 559.45M530.57 530.11 L532.54 534.02 L533.52 536.95 L534.5 541.84 L534.5 545.75 L533.52 550.64 L532.54 553.58 L530.57 557.49" fill="none" stroke="#000" stroke-width="1.02" stroke-linecap="round" stroke-linejoin="round"/>
<path d="M-61.37 -20.54 L-61.37 0M-60.39 -20.54 L-60.39 0M-54.5 -14.67 L-54.5 -6.85M-64.32 -20.54 L-48.6 -20.54 L-48.6 -14.67 L-49.59 -20.54M-60.39 -10.76 L-54.5 -10.76M-64.32 0 L-57.44 0M-41.73 -20.54 L-41.73 0M-40.75 -20.54 L-40.75 0M-44.68 -20.54 L-40.75 -20.54M-44.68 0 L-37.8 0M-30.93 -13.69 L-30.93 -2.93 L-29.95 -0.98 L-27 0 L-25.04 0 L-22.09 -0.98 L-20.13 -2.93M-29.95 -13.69 L-29.95 -2.93 L-28.97 -0.98 L-27 0M-20.13 -13.69 L-20.13 0M-19.15 -13.69 L-19.15 0M-33.88 -13.69 L-29.95 -13.69M-23.07 -13.69 L-19.15 -13.69M-20.13 0 L-16.2 0M-10.31 -13.69 L0.49 0M-9.33 -13.69 L1.47 0M1.47 -13.69 L-10.31 0M-12.27 -13.69 L-6.38 -13.69M-2.45 -13.69 L3.44 -13.69M-12.27 0 L-6.38 0M-2.45 0 L3.44 0M16.2 -24.45 L14.24 -22.49 L12.27 -19.56 L10.31 -15.65 L9.33 -10.76 L9.33 -6.85 L10.31 -1.96 L12.27 1.96 L14.24 4.89 L16.2 6.85M14.24 -22.49 L12.27 -18.58 L11.29 -15.65 L10.31 -10.76 L10.31 -6.85 L11.29 -1.96 L12.27 0.98 L14.24 4.89M28.97 -20.54 L28.97 -3.91 L27.98 -0.98 L26.02 0 L24.06 0 L22.09 -0.98 L21.11 -2.93 L21.11 -4.89 L22.09 -5.87 L23.07 -4.89 L22.09 -3.91M27.98 -20.54 L27.98 -3.91 L27 -0.98 L26.02 0M25.04 -20.54 L31.91 -20.54M37.8 -13.69 L43.7 0M38.79 -13.69 L43.7 -1.96M49.59 -13.69 L43.7 0 L41.73 3.91 L39.77 5.87 L37.8 6.85 L36.82 6.85 L35.84 5.87 L36.82 4.89 L37.8 5.87M35.84 -13.69 L41.73 -13.69M45.66 -13.69 L51.55 -13.69M55.48 -24.45 L57.44 -22.49 L59.41 -19.56 L61.37 -15.65 L62.35 -10.76 L62.35 -6.85 L61.37 -1.96 L59.41 1.96 L57.44 4.89 L55.48 6.85M57.44 -22.49 L59.41 -18.58 L60.39 -15.65 L61.37 -10.76 L61.37 -6.85 L60.39 -1.96 L59.41 0.98 L57.44 4.89" fill="none" stroke="#000" stroke-width="1.02" stroke-linecap="round" stroke-linejoin="round" transform="translate(105.4 260.45) rotate(-90)"/>
<path d="M252.53 81.44 L253.34 79.84 L253.34 83.03 L252.53 81.44 L251.72 80.64 L250.1 79.84 L246.86 79.84 L245.24 80.64 L244.43 81.44 L244.43 83.03 L245.24 83.83 L246.86 84.62 L250.91 86.22 L252.53 87.02 L253.34 87.81M244.43 82.23 L245.24 83.03 L246.86 83.83 L250.91 85.42 L252.53 86.22 L253.34 87.02 L253.34 89.41 L252.53 90.2 L250.91 91 L247.67 91 L246.05 90.2 L245.24 89.41 L244.43 87.81 L244.43 91 L245.24 89.41M259.82 74.26 L259.01 75.06 L259.82 75.86 L260.63 75.06 L259.82 74.26M259.82 79.84 L259.82 91M260.63 79.84 L260.63 91M257.39 79.84 L260.63 79.84M257.39 91 L263.06 91M268.73 74.26 L268.73 91M269.54 74.26 L269.54 91M266.3 74.26 L269.54 74.26M266.3 91 L271.97 91M277.64 74.26 L276.83 75.06 L277.64 75.86 L278.45 75.06 L277.64 74.26M277.64 79.84 L277.64 91M278.45 79.84 L278.45 91M275.21 79.84 L278.45 79.84M275.21 91 L280.88 91M294.65 82.23 L293.84 83.03 L294.65 83.83 L295.46 83.03 L295.46 82.23 L293.84 80.64 L292.22 79.84 L289.79 79.84 L287.36 80.64 L285.74 82.23 L284.93 84.62 L284.93 86.22 L285.74 88.61 L287.36 90.2 L289.79 91 L291.41 91 L293.84 90.2 L295.46 88.61M289.79 79.84 L288.17 80.64 L286.55 82.23 L285.74 84.62 L285.74 86.22 L286.55 88.61 L288.17 90.2 L289.79 91M301.94 81.44 L301.94 82.23 L301.13 82.23 L301.13 81.44 L301.94 80.64 L303.56 79.84 L306.8 79.84 L308.42 80.64 L309.23 81.44 L310.04 83.03 L310.04 88.61 L310.85 90.2 L311.66 91M309.23 81.44 L309.23 88.61 L310.04 90.2 L311.66 91 L312.47 91M309.23 83.03 L308.42 83.83 L303.56 84.62 L301.13 85.42 L300.32 87.02 L300.32 88.61 L301.13 90.2 L303.56 91 L305.99 91 L307.61 90.2 L309.23 88.61M303.56 84.62 L301.94 85.42 L301.13 87.02 L301.13 88.61 L301.94 90.2 L303.56 91M318.14 74.26 L318.14 87.81 L318.95 90.2 L320.57 91 L322.19 91 L323.81 90.2 L324.62 88.61M318.95 74.26 L318.95 87.81 L319.76 90.2 L320.57 91M315.71 79.84 L322.19 79.84M329.48 84.62 L339.2 84.62 L339.2 83.03 L338.39 81.44 L337.58 80.64 L335.96 79.84 L333.53 79.84 L331.1 80.64 L329.48 82.23 L328.67 84.62 L328.67 86.22 L329.48 88.61 L331.1 90.2 L333.53 91 L335.15 91 L337.58 90.2 L339.2 88.61M338.39 84.62 L338.39 82.23 L337.58 80.64M333.53 79.84 L331.91 80.64 L330.29 82.23 L329.48 84.62 L329.48 86.22 L330.29 88.61 L331.91 90.2 L333.53 91" fill="none" stroke="#0000ff" stroke-width="1.15" stroke-linecap="round" stroke-linejoin="round"/>
<path d="M250.1 105.76 L244.43 122.5M250.1 105.76 L255.77 122.5M250.1 108.15 L254.96 122.5M246.05 117.72 L253.34 117.72M242.81 122.5 L247.67 122.5M252.53 122.5 L257.39 122.5M262.25 111.34 L262.25 122.5M263.06 111.34 L263.06 122.5M263.06 113.73 L264.68 112.14 L267.11 111.34 L268.73 111.34 L271.16 112.14 L271.97 113.73 L271.97 122.5M268.73 111.34 L270.35 112.14 L271.16 113.73 L271.16 122.5M271.97 113.73 L273.59 112.14 L276.02 111.34 L277.64 111.34 L280.07 112.14 L280.88 113.73 L280.88 122.5M277.64 111.34 L279.26 112.14 L280.07 113.73 L280.07 122.5M259.82 111.34 L263.06 111.34M259.82 122.5 L265.49 122.5M268.73 122.5 L274.4 122.5M277.64 122.5 L283.31 122.5M310.04 113.73 L309.23 114.53 L310.04 115.33 L310.85 114.53 L310.85 113.73 L309.23 112.14 L307.61 111.34 L305.18 111.34 L302.75 112.14 L301.13 113.73 L300.32 116.12 L300.32 117.72 L301.13 120.11 L302.75 121.7 L305.18 122.5 L306.8 122.5 L309.23 121.7 L310.85 120.11M305.18 111.34 L303.56 112.14 L301.94 113.73 L301.13 116.12 L301.13 117.72 L301.94 120.11 L303.56 121.7 L305.18 122.5M317.33 112.94 L317.33 113.73 L316.52 113.73 L316.52 112.94 L317.33 112.14 L318.95 111.34 L322.19 111.34 L323.81 112.14 L324.62 112.94 L325.43 114.53 L325.43 120.11 L326.24 121.7 L327.05 122.5M324.62 112.94 L324.62 120.11 L325.43 121.7 L327.05 122.5 L327.86 122.5M324.62 114.53 L323.81 115.33 L318.95 116.12 L316.52 116.92 L315.71 118.52 L315.71 120.11 L316.52 121.7 L318.95 122.5 L321.38 122.5 L323 121.7 L324.62 120.11M318.95 116.12 L317.33 116.92 L316.52 118.52 L316.52 120.11 L317.33 121.7 L318.95 122.5M333.53 111.34 L333.53 122.5M334.34 111.34 L334.34 122.5M334.34 116.12 L335.15 113.73 L336.77 112.14 L338.39 111.34 L340.82 111.34 L341.63 112.14 L341.63 112.94 L340.82 113.73 L340.01 112.94 L340.82 112.14M331.1 111.34 L334.34 111.34M331.1 122.5 L336.77 122.5M347.3 105.76 L347.3 122.5M348.11 105.76 L348.11 122.5M348.11 113.73 L349.73 112.14 L351.35 111.34 L352.97 111.34 L355.4 112.14 L357.02 113.73 L357.83 116.12 L357.83 117.72 L357.02 120.11 L355.4 121.7 L352.97 122.5 L351.35 122.5 L349.73 121.7 L348.11 120.11M352.97 111.34 L354.59 112.14 L356.21 113.73 L357.02 116.12 L357.02 117.72 L356.21 120.11 L354.59 121.7 L352.97 122.5M344.87 105.76 L348.11 105.76M367.55 111.34 L365.12 112.14 L363.5 113.73 L362.69 116.12 L362.69 117.72 L363.5 120.11 L365.12 121.7 L367.55 122.5 L369.17 122.5 L371.6 121.7 L373.22 120.11 L374.03 117.72 L374.03 116.12 L373.22 113.73 L371.6 112.14 L369.17 111.34 L367.55 111.34M367.55 111.34 L365.93 112.14 L364.31 113.73 L363.5 116.12 L363.5 117.72 L364.31 120.11 L365.93 121.7 L367.55 122.5M369.17 122.5 L370.79 121.7 L372.41 120.11 L373.22 117.72 L373.22 116.12 L372.41 113.73 L370.79 112.14 L369.17 111.34M380.51 111.34 L380.51 122.5M381.32 111.34 L381.32 122.5M381.32 113.73 L382.94 112.14 L385.37 111.34 L386.99 111.34 L389.42 112.14 L390.23 113.73 L390.23 122.5M386.99 111.34 L388.61 112.14 L389.42 113.73 L389.42 122.5M378.08 111.34 L381.32 111.34M378.08 122.5 L383.75 122.5M386.99 122.5 L392.66 122.5" fill="none" stroke="#ff0000" stroke-width="1.15" stroke-linecap="round" stroke-linejoin="round"/>
<path d="M642.14 90.18 L643 87.63 L643 92.73 L642.14 90.18 L640.42 88.48 L637.84 87.63 L635.26 87.63 L632.68 88.48 L630.96 90.18 L630.96 91.88 L631.82 93.59 L632.68 94.44 L634.4 95.29 L639.56 96.99 L641.28 97.84 L643 99.54M630.96 91.88 L632.68 93.59 L634.4 94.44 L639.56 96.14 L641.28 96.99 L642.14 97.84 L643 99.54 L643 102.95 L641.28 104.65 L638.7 105.5 L636.12 105.5 L633.54 104.65 L631.82 102.95 L630.96 100.39 L630.96 105.5 L631.82 102.95M649.45 87.63 L649.45 105.5M650.25 87.63 L655.05 102.95M649.45 87.63 L655.05 105.5M660.65 87.63 L655.05 105.5M660.65 87.63 L660.65 105.5M661.45 87.63 L661.45 105.5M647.05 87.63 L650.25 87.63M660.65 87.63 L663.85 87.63M647.05 105.5 L651.85 105.5M658.25 105.5 L663.85 105.5M679.79 90.18 L680.65 92.73 L680.65 87.63 L679.79 90.18 L678.07 88.48 L675.49 87.63 L673.77 87.63 L671.19 88.48 L669.47 90.18 L668.61 91.88 L667.75 94.44 L667.75 98.69 L668.61 101.25 L669.47 102.95 L671.19 104.65 L673.77 105.5 L675.49 105.5 L678.07 104.65 L679.79 102.95 L680.65 101.25M673.77 87.63 L672.05 88.48 L670.33 90.18 L669.47 91.88 L668.61 94.44 L668.61 98.69 L669.47 101.25 L670.33 102.95 L672.05 104.65 L673.77 105.5" fill="none" stroke="#000" stroke-width="1.1" stroke-linecap="round" stroke-linejoin="round"/>
</svg>
</body></html>
